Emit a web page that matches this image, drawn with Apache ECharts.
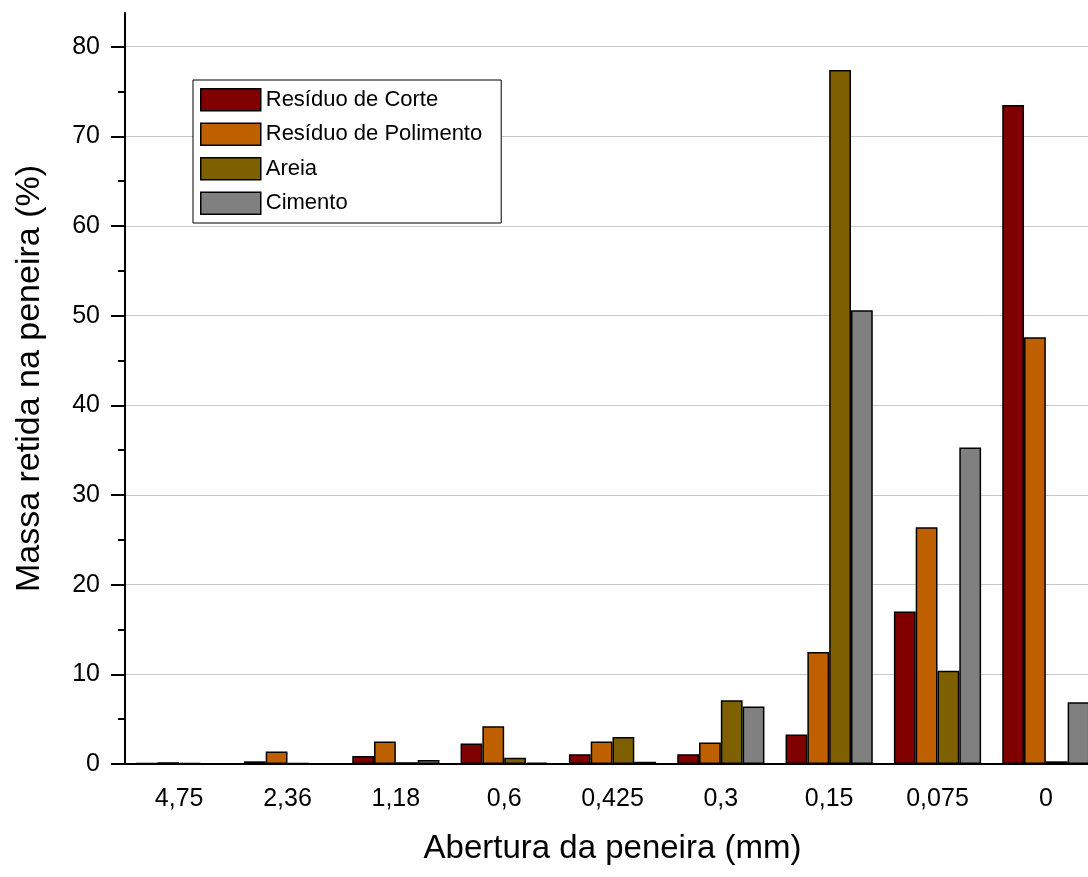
<!DOCTYPE html>
<html>
<head>
<meta charset="utf-8">
<script src="https://cdn.jsdelivr.net/npm/echarts@6/dist/echarts.min.js"></script>
<style>
html,body{margin:0;padding:0;background:#fff;}
#chart{width:1088px;height:877px;}
</style>
</head>
<body>
<div id="chart"></div>
<script>
const categories = ['4,75','2,36','1,18','0,6','0,425','0,3','0,15','0,075','0'];
const residuoCorte = [0.1, 0.3, 0.9, 2.3, 1.1, 1.1, 3.3, 17.0, 73.5];
const residuoPolimento = [0.2, 1.4, 2.5, 4.2, 2.5, 2.4, 12.5, 26.4, 47.6];
const areia = [0.1, 0.1, 0.2, 0.7, 3.0, 7.1, 77.4, 10.4, 0.3];
const cimento = [0, 0, 0.45, 0.15, 0.25, 6.4, 50.6, 35.3, 6.9];
const majorTicks = [0,10,20,30,40,50,60,70,80];
const minorTicks = [5,15,25,35,45,55,65,75];

const FONT = '"Liberation Sans", Arial, sans-serif';
const chart = echarts.init(document.getElementById('chart'), null, {renderer:'canvas'});
function bar(name, data, color){
  return {
    name, type:'bar', data,
    barGap:'0%', barCategoryGap:'19.5%',
    itemStyle:{color, borderColor:'#000', borderWidth:1.5},
    emphasis:{disabled:true}
  };
}
chart.setOption({
  animation:false,
  backgroundColor:'#fff',
  textStyle:{fontFamily:FONT},
  grid:{left:125, top:13, width:975, bottom:113, containLabel:false, outerBoundsMode:'none'},
  legend:{
    orient:'vertical', left:193, top:80,
    itemWidth:60, itemHeight:22, itemGap:11,
    padding:[8,19,8,7],
    borderColor:'#000', borderWidth:1,
    backgroundColor:'#fff',
    textStyle:{fontSize:22, color:'#000', fontFamily:FONT},
    itemStyle:{borderColor:'#000', borderWidth:1.5},
    icon:'rect'
  },
  xAxis:{
    type:'category', data:categories,
    axisLine:{lineStyle:{color:'#000', width:2}},
    axisTick:{alignWithLabel:true, length:12, lineStyle:{color:'#000', width:2}},
    axisLabel:{fontSize:25, color:'#000', margin:23, fontFamily:FONT},
    name:'Abertura da peneira (mm)', nameLocation:'middle', nameGap:68,
    nameTextStyle:{fontSize:33, color:'#000', fontFamily:FONT}
  },
  yAxis:[{
    type:'value', min:0, max:83.75, interval:10, position:'left',
    axisLine:{show:true, lineStyle:{color:'#000', width:2}},
    axisTick:{show:true, length:14, customValues:majorTicks, lineStyle:{color:'#000', width:2}},
    axisLabel:{fontSize:25, color:'#000', margin:25, customValues:majorTicks, fontFamily:FONT},
    splitLine:{show:true, lineStyle:{color:['#c8c8c8','#c8c8c8','#c8c8c8','#c8c8c8','#c8c8c8','#c8c8c8','#c8c8c8','#c8c8c8','#c8c8c8','rgba(0,0,0,0)'], width:1.2}},
    name:'Massa retida na peneira (%)', nameLocation:'middle', nameGap:78,
    nameTextStyle:{fontSize:34, color:'#000', fontFamily:FONT, padding:[0,0,0,20]}
  },{
    type:'value', min:0, max:83.75, interval:5, position:'left', offset:0,
    axisLine:{show:false},
    axisTick:{show:true, length:7, customValues:minorTicks, lineStyle:{color:'#000', width:2}},
    axisLabel:{show:false},
    splitLine:{show:false}
  }],
  series:[
    bar('Resíduo de Corte', residuoCorte, '#800000'),
    bar('Resíduo de Polimento', residuoPolimento, '#BF6000'),
    bar('Areia', areia, '#7F6000'),
    bar('Cimento', cimento, '#808080')
  ]
});
</script>
</body>
</html>
